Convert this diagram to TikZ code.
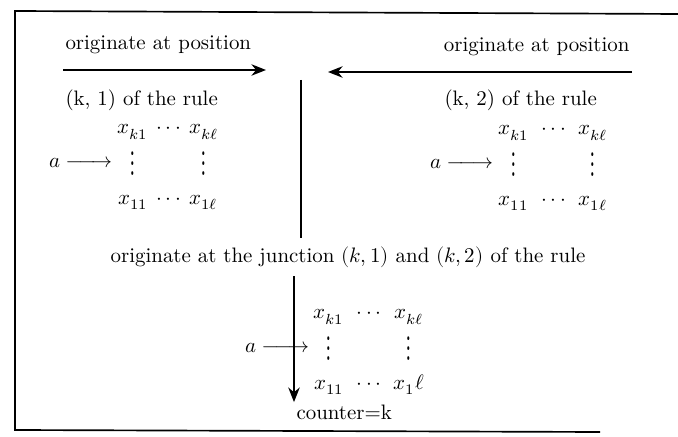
\documentclass[tikz,border=0pt]{standalone}
\usepackage{unicode-math}
\setmathfont{Latin Modern Math}
\usepackage{tikz}
\usetikzlibrary{positioning,calc,arrows.meta}
\newcommand{\vdts}{\vcenter{\hbox{\scalebox{1}[1.7]{$\vdots$}}}}
\newcommand{\hdts}{\mathord{\cdot}\,\mathord{\cdot}\,\mathord{\cdot}}
\newcommand{\feed}{a\relbar\joinrel\relbar\joinrel\rightarrow}
\newcommand{\cellgrid}[2]{\begin{array}{@{}c@{\hspace{#1}}c@{\hspace{#1}}c@{}}
    x_{k1} & \hdts & x_{k\ell}\\
    \vdts & & \vdts\\
    x_{11} & \hdts & #2
  \end{array}}
\renewcommand{\arraystretch}{1.4}

\begin{document}
\begin{tikzpicture}[x=0.0168cm, y=-0.0168cm, every node/.style={inner sep=1pt},
    flow/.style={line width=0.7pt, -{Stealth[length=7pt,width=5.5pt]}},
    gridbox/.style={inner sep=0pt}]
    \useasboundingbox (0,0) rectangle (678,437);

    % Frame
    \draw[line width=0.8pt] (678,14) -- (15,11) -- (15,430) -- (600,432);

    % Left branch
    \node[anchor=west] (titleL) at (63,45) {originate at position};
    \coordinate (startL) at (63,70);
    \coordinate (tipL) at (266,70);
    \draw[flow] (startL) -- (tipL);
    \node[anchor=west] (ruleL) at (63,100) {(k, 1) of the rule};
    \node[gridbox] (gridL) at (168,162) {$\cellgrid{4pt}{x_{1\ell}}$};
    \node[left=1pt of gridL.base west, anchor=base east] (inL) {$\feed$};

    % Right branch
    \node[anchor=east] (titleR) at (632,47) {originate at position};
    \coordinate (startR) at (632,72);
    \coordinate (tipR) at (328,72);
    \draw[flow] (startR) -- (tipR);
    \node[anchor=west] (ruleR) at (442,100) {(k, 2) of the rule};
    \node[gridbox] (gridR) at (553,163) {$\cellgrid{6pt}{x_{1\ell}}$};
    \node[left=1pt of gridR.base west, anchor=base east] (inR) {$\feed$};

    % Junction
    \node[inner sep=4pt] (junction) at (348,257)
        {originate at the junction $(k,1)$ and $(k,2)$ of the rule};
    \coordinate (top) at (301,80);
    \draw[line width=0.7pt] (top) -- (top |- junction.north);
    \node[anchor=west] (counter) at (294,412) {counter=k};
    \draw[flow] (counter.north west |- junction.south) -- (counter.north west);
    \node[gridbox] (gridB) at (369,347) {$\cellgrid{6pt}{x_{1}\ell}$};
    \node[left=1pt of gridB.base west, anchor=base east] (inB) {$\feed$};
\end{tikzpicture}
\end{document}
